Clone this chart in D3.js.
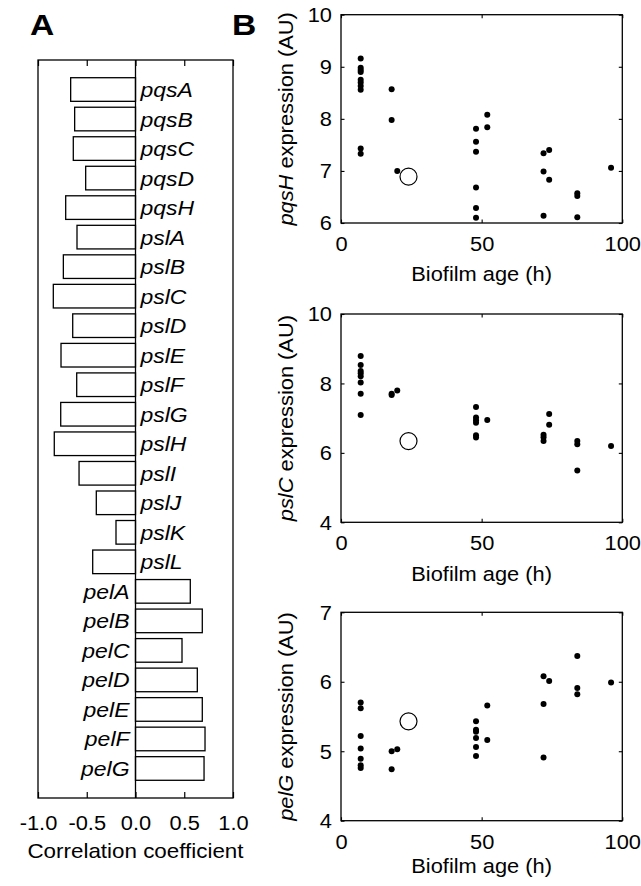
<!DOCTYPE html>
<html>
<head>
<meta charset="utf-8">
<script src="https://cdn.jsdelivr.net/npm/d3@7"></script>
<style>
  html, body { margin: 0; padding: 0; background: #fff; }
  svg { display: block; font-family: "Liberation Sans", Arial, Helvetica, sans-serif; }
</style>
</head>
<body>
<svg id="chart" width="641" height="886"></svg>
<script>
// ---------- Panel A data ----------
const genes = ["pqsA","pqsB","pqsC","pqsD","pqsH","pslA","pslB","pslC","pslD","pslE","pslF","pslG",
               "pslH","pslI","pslJ","pslK","pslL","pelA","pelB","pelC","pelD","pelE","pelF","pelG"];
const corr = [-0.665,-0.624,-0.638,-0.511,-0.716,-0.60,-0.74,-0.843,-0.644,-0.764,-0.603,-0.767,
              -0.833,-0.579,-0.402,-0.20,-0.439,0.562,0.685,0.477,0.634,0.685,0.713,0.703];
const corrTicks = [-1,-0.5,0,0.5,1];

// ---------- Panel B data ----------
const pqsHAge = [7,7,7,7,7,7,7,7,7,7, 18,18, 20, 48,48,48,48,48,48, 52,52, 72,72,72, 74,74, 84,84,84, 96];
const pqsHVal = [9.16,8.98,8.94,8.90,8.75,8.70,8.63,8.56,7.43,7.33, 8.57,7.98, 7.00,
                 7.81,7.56,7.37,6.68,6.29,6.10, 8.08,7.84, 7.34,6.99,6.14, 7.40,6.83, 6.57,6.52,6.11, 7.06];
const pqsHOpen = [24, 6.89];
const pqsHTicks = [6,7,8,9,10];

const pslCAge = [7,7,7,7,7,7,7,7, 18,18, 20, 48,48,48,48,48,48, 52, 72,72,72, 74,74, 84,84,84, 96];
const pslCVal = [8.79,8.53,8.36,8.29,8.21,8.03,7.70,7.09, 7.67,7.70, 7.80,
                 7.32,7.02,6.94,6.87,6.51,6.44, 6.95, 6.52,6.45,6.34, 7.12,6.81, 6.34,6.25,5.49, 6.20];
const pslCOpen = [24, 6.34];
const pslCTicks = [4,6,8,10];

const pelGAge = [7,7,7,7,7,7,7, 18,18, 20, 48,48,48,48,48,48, 52,52, 72,72,72, 74, 84,84,84, 96];
const pelGVal = [5.70,5.62,5.22,5.04,4.89,4.80,4.76, 5.00,4.74, 5.03,
                 5.43,5.31,5.28,5.19,5.06,4.93, 5.66,5.16, 6.08,5.68,4.91, 6.01, 6.37,5.91,5.82, 5.99];
const pelGOpen = [24, 5.43];
const pelGTicks = [4,5,6,7];

const ageTicks = [0,50,100];

// ---------- drawing ----------
const SX = 1.12; // horizontal glyph stretch
const svg = d3.select("#chart");

function label(g, x, y, str, opts = {}) {
  const t = g.append("text")
    .attr("transform", `translate(${x},${y})${opts.rotate ? ` rotate(${opts.rotate})` : ""} scale(${SX},1)`)
    .attr("text-anchor", opts.anchor || "start")
    .attr("font-size", (opts.size || 20) + "px")
    .attr("fill", "#000");
  if (opts.weight) t.attr("font-weight", opts.weight);
  if (opts.italic) t.attr("font-style", "italic");
  if (str !== null) t.text(str);
  return t;
}

// Panel A
const xA = d3.scaleLinear().domain([-1, 1]).range([38, 233]);
const yA = d3.scaleLinear().domain([0, 25]).range([60, 798]);
const gA = svg.append("g");

gA.selectAll("rect.bar").data(corr).join("rect")
  .attr("class", "bar")
  .attr("x", d => xA(Math.min(0, d)))
  .attr("width", d => Math.abs(xA(d) - xA(0)))
  .attr("y", (d, i) => yA(i + 1 - 0.4))
  .attr("height", yA(0.8) - yA(0))
  .attr("fill", "#fff").attr("stroke", "#000").attr("stroke-width", 1.3);

const axA_b = gA.append("g").attr("transform", `translate(0,${yA(25)})`)
  .call(d3.axisBottom(xA).tickValues(corrTicks).tickSizeInner(-6).tickSizeOuter(0)
        .tickFormat(d => d.toFixed(1)));
axA_b.select(".domain").remove();
axA_b.selectAll("line").attr("stroke", "#000").attr("stroke-width", 1.2);
axA_b.selectAll("text").attr("y", 0).attr("dy", null)
  .attr("transform", `translate(0,32) scale(${SX},1)`)
  .attr("font-size", "19.5px").attr("font-family", null).attr("fill", "#000");
axA_b.attr("font-family", null).attr("font-size", null);

const axA_t = gA.append("g").attr("transform", `translate(0,${yA(0)})`)
  .call(d3.axisTop(xA).tickValues(corrTicks).tickSizeInner(-6).tickSizeOuter(0).tickFormat(""));
axA_t.select(".domain").remove();
axA_t.selectAll("line").attr("stroke", "#000").attr("stroke-width", 1.2);

gA.append("rect").attr("x", xA(-1)).attr("y", yA(0))
  .attr("width", xA(1) - xA(-1)).attr("height", yA(25) - yA(0))
  .attr("fill", "none").attr("stroke", "#000").attr("stroke-width", 1.3);
gA.append("line").attr("x1", xA(0)).attr("x2", xA(0)).attr("y1", yA(0)).attr("y2", yA(25))
  .attr("stroke", "#000").attr("stroke-width", 1.3);

genes.forEach((gname, i) => {
  const v = corr[i];
  const x = v < 0 ? xA(0) + 5 : xA(0) - 6;
  label(gA, x, yA(i + 1) + 7.5, gname, { anchor: v < 0 ? "start" : "end", italic: true, size: 20.5 });
});

label(gA, xA(0), 857.5, "Correlation coefficient", { anchor: "middle", size: 20 });
label(svg, 30, 35, "A", { weight: "bold", size: 30 });
label(svg, 232, 35, "B", { weight: "bold", size: 30 });

// Panel B
const xB = d3.scaleLinear().domain([0, 100]).range([341, 622.3]);

function scatter(top, bottom, ticks, ages, vals, openPt, gene, xLabelOff) {
  const y = d3.scaleLinear().domain([ticks[0], ticks[ticks.length - 1]]).range([bottom, top]);
  const g = svg.append("g");

  const styleAxis = ax => {
    ax.select(".domain").remove();
    ax.selectAll("line").attr("stroke", "#000").attr("stroke-width", 1.1);
    ax.attr("font-family", null).attr("font-size", null);
  };

  const ab = g.append("g").attr("transform", `translate(0,${bottom})`)
    .call(d3.axisBottom(xB).tickValues(ageTicks).tickSizeInner(-3.5).tickSizeOuter(0));
  styleAxis(ab);
  ab.selectAll("text").attr("y", 0).attr("dy", null)
    .attr("transform", `translate(0,28) scale(${SX},1)`)
    .attr("font-size", "19.5px").attr("fill", "#000");

  const at = g.append("g").attr("transform", `translate(0,${top})`)
    .call(d3.axisTop(xB).tickValues(ageTicks).tickSizeInner(-3.5).tickSizeOuter(0).tickFormat(""));
  styleAxis(at);

  const al = g.append("g").attr("transform", `translate(${xB(0)},0)`)
    .call(d3.axisLeft(y).tickValues(ticks).tickSizeInner(-3.5).tickSizeOuter(0).tickFormat(d3.format("d")));
  styleAxis(al);
  al.selectAll("text").attr("x", 0).attr("dy", "0.35em")
    .attr("transform", `translate(-9,0) scale(${SX},1)`)
    .attr("font-size", "19.5px").attr("fill", "#000");

  const ar = g.append("g").attr("transform", `translate(${xB(100)},0)`)
    .call(d3.axisRight(y).tickValues(ticks).tickSizeInner(-3.5).tickSizeOuter(0).tickFormat(""));
  styleAxis(ar);

  g.append("rect").attr("x", xB(0)).attr("y", top)
    .attr("width", xB(100) - xB(0)).attr("height", bottom - top)
    .attr("fill", "none").attr("stroke", "#000").attr("stroke-width", 1.3);

  g.selectAll("circle.dot").data(ages).join("circle")
    .attr("class", "dot")
    .attr("cx", d => xB(d))
    .attr("cy", (d, i) => y(vals[i]))
    .attr("r", 3).attr("fill", "#000");

  g.append("circle").attr("cx", xB(openPt[0])).attr("cy", y(openPt[1]))
    .attr("r", 8.5).attr("fill", "#fff").attr("stroke", "#000").attr("stroke-width", 1.2);

  label(g, (xB(0) + xB(100)) / 2, bottom + xLabelOff, "Biofilm age (h)", { anchor: "middle", size: 19.5 });

  const yl = label(g, 293, (top + bottom) / 2, null, { anchor: "middle", rotate: -90, size: 19.5 });
  yl.append("tspan").attr("font-style", "italic").text(gene);
  yl.append("tspan").text(" expression (AU)");
}

scatter(14.7, 223, pqsHTicks, pqsHAge, pqsHVal, pqsHOpen, "pqsH", 58);
scatter(314, 522.3, pslCTicks, pslCAge, pslCVal, pslCOpen, "pslC", 58.5);
scatter(612.3, 820.7, pelGTicks, pelGAge, pelGVal, pelGOpen, "pelG", 52.5);
</script>
</body>
</html>
